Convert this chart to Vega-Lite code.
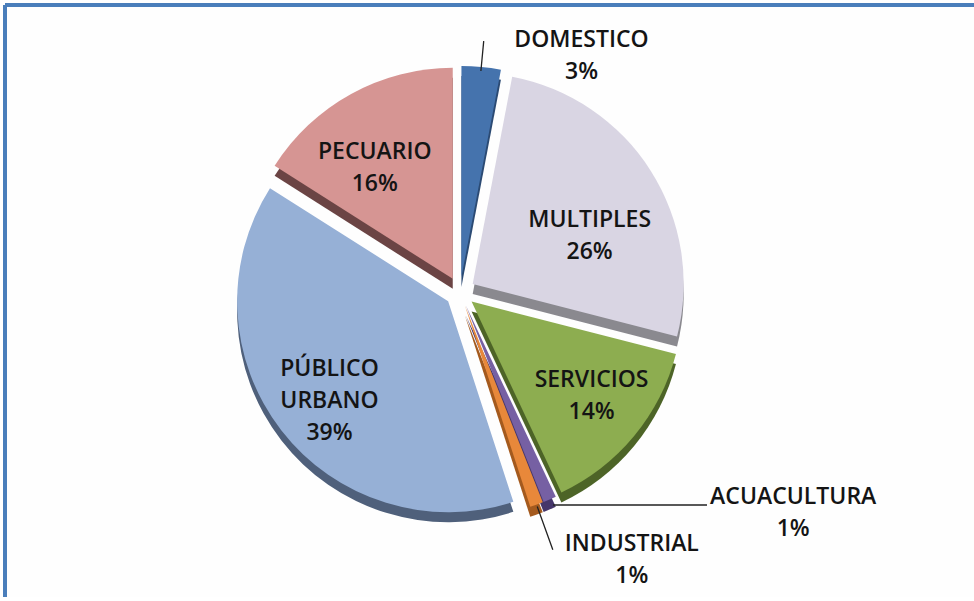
{
  "$schema": "https://vega.github.io/schema/vega-lite/v6.json",
  "width": 969,
  "height": 592,
  "autosize": {"type": "none"},
  "padding": {"left": 5, "top": 5, "right": 0, "bottom": 0},
  "background": "#ffffff",
  "view": {"stroke": "#4a7ebb", "strokeWidth": 4, "strokeDash": [969, 1561, 592, 0], "fill": "#fefefe"},
  "config": {
    "text": {"font": "Open Sans", "fontSize": 23, "fontWeight": 600, "color": "#141414", "lineHeight": 32, "lineBreak": "\n", "align": "center", "baseline": "middle"}
  },
  "data": {
    "values": [
      {"categoria": "DOMESTICO", "valor": 3},
      {"categoria": "MULTIPLES", "valor": 26},
      {"categoria": "SERVICIOS", "valor": 14},
      {"categoria": "ACUACULTURA", "valor": 1},
      {"categoria": "INDUSTRIAL", "valor": 1},
      {"categoria": "PÚBLICO URBANO", "valor": 39},
      {"categoria": "PECUARIO", "valor": 16}
    ]
  },
  "transform": [
    {"window": [{"op": "sum", "field": "valor", "as": "fin"}], "frame": [null, 0]},
    {"calculate": "datum.fin - datum.valor", "as": "ini"},
    {"calculate": "datum.fin - datum.valor / 2", "as": "mid"},
    {"calculate": "replace(datum.categoria, ' ', '\\n') + '\\n' + datum.valor + '%'", "as": "etiqueta"}
  ],
  "resolve": {"scale": {"color": "independent"}},
  "layer": [
    {
      "mark": {"type": "arc", "radius": 211,
        "xOffset": {"expr": "15*sin(datum.mid*PI/50) - 29.5"},
        "yOffset": {"expr": "-15*cos(datum.mid*PI/50) + 1"}},
      "encoding": {
        "theta": {"field": "ini", "type": "quantitative", "scale": {"domain": [0, 100]}},
        "theta2": {"field": "fin"},
        "color": {"field": "categoria", "type": "nominal", "legend": null,
          "scale": {"domain": ["DOMESTICO", "MULTIPLES", "SERVICIOS", "ACUACULTURA", "INDUSTRIAL", "PÚBLICO URBANO", "PECUARIO"],
            "range": ["#2b4a73", "#8a898f", "#4d6427", "#45366a", "#a45a1e", "#4f607b", "#6b4444"]}}
      }
    },
    {
      "mark": {"type": "arc", "radius": 211,
        "xOffset": {"expr": "15*sin(datum.mid*PI/50) - 29.5"},
        "yOffset": {"expr": "-15*cos(datum.mid*PI/50) - 9"}},
      "encoding": {
        "theta": {"field": "ini", "type": "quantitative", "scale": {"domain": [0, 100]}},
        "theta2": {"field": "fin"},
        "color": {"field": "categoria", "type": "nominal", "legend": null,
          "scale": {"domain": ["DOMESTICO", "MULTIPLES", "SERVICIOS", "ACUACULTURA", "INDUSTRIAL", "PÚBLICO URBANO", "PECUARIO"],
            "range": ["#4573ad", "#d9d5e3", "#8dad50", "#7660a3", "#e8883a", "#96b0d6", "#d69593"]}}
      }
    },
    {
      "transform": [{"filter": "datum.categoria == 'DOMESTICO'"}],
      "mark": {"type": "arc", "radius": 252, "radius2": 222, "padAngle": 3.14, "filled": false, "stroke": "#222222", "strokeWidth": 1.3, "xOffset": -29.5, "yOffset": -9},
      "encoding": {
        "theta": {"field": "ini", "type": "quantitative", "scale": {"domain": [0, 100]}},
        "theta2": {"field": "fin"}
      }
    },
    {
      "transform": [{"filter": "datum.categoria == 'INDUSTRIAL'"}],
      "mark": {"type": "arc", "radius": 274, "radius2": 228, "padAngle": 3.14, "filled": false, "stroke": "#222222", "strokeWidth": 1.3, "xOffset": -29.5, "yOffset": -9},
      "encoding": {
        "theta": {"field": "ini", "type": "quantitative", "scale": {"domain": [0, 100]}},
        "theta2": {"field": "fin"}
      }
    },
    {
      "transform": [{"filter": "datum.categoria == 'ACUACULTURA'"}],
      "mark": {"type": "arc", "radius": 247, "radius2": 93, "padAngle": 3.14, "filled": false, "stroke": "#222222", "strokeWidth": 1.3, "xOffset": -29.5, "yOffset": 204, "thetaOffset": -1.1624, "theta2Offset": -1.1624},
      "encoding": {
        "theta": {"field": "ini", "type": "quantitative", "scale": {"domain": [0, 100]}},
        "theta2": {"field": "fin"}
      }
    },
    {
      "transform": [{"filter": "datum.categoria == 'PECUARIO'"}],
      "mark": {"type": "text", "radius": 150, "dx": -42.5, "dy": -18},
      "encoding": {"theta": {"field": "mid", "type": "quantitative", "scale": {"domain": [0, 100]}}, "text": {"field": "etiqueta"}}
    },
    {
      "transform": [{"filter": "datum.categoria == 'MULTIPLES'"}],
      "mark": {"type": "text", "radius": 150, "dx": -26.5, "dy": -1},
      "encoding": {"theta": {"field": "mid", "type": "quantitative", "scale": {"domain": [0, 100]}}, "text": {"field": "etiqueta"}}
    },
    {
      "transform": [{"filter": "datum.categoria == 'SERVICIOS'"}],
      "mark": {"type": "text", "radius": 150, "dx": -13.5, "dy": -17},
      "encoding": {"theta": {"field": "mid", "type": "quantitative", "scale": {"domain": [0, 100]}}, "text": {"field": "etiqueta"}}
    },
    {
      "transform": [{"filter": "datum.categoria == 'PÚBLICO URBANO'"}],
      "mark": {"type": "text", "radius": 150, "dx": -41.5, "dy": -24},
      "encoding": {"theta": {"field": "mid", "type": "quantitative", "scale": {"domain": [0, 100]}}, "text": {"field": "etiqueta"}}
    },
    {
      "transform": [{"filter": "datum.categoria == 'DOMESTICO'"}],
      "mark": {"type": "text", "radius": 250, "dx": 68.5, "dy": -12},
      "encoding": {"theta": {"field": "mid", "type": "quantitative", "scale": {"domain": [0, 100]}}, "text": {"field": "etiqueta"}}
    },
    {
      "transform": [{"filter": "datum.categoria == 'INDUSTRIAL'"}],
      "mark": {"type": "text", "radius": 280, "dx": 47.5, "dy": -20},
      "encoding": {"theta": {"field": "mid", "type": "quantitative", "scale": {"domain": [0, 100]}}, "text": {"field": "etiqueta"}}
    },
    {
      "transform": [{"filter": "datum.categoria == 'ACUACULTURA'"}],
      "mark": {"type": "text", "radius": 280, "dx": 192.5, "dy": -61},
      "encoding": {"theta": {"field": "mid", "type": "quantitative", "scale": {"domain": [0, 100]}}, "text": {"field": "etiqueta"}}
    }
  ]
}
